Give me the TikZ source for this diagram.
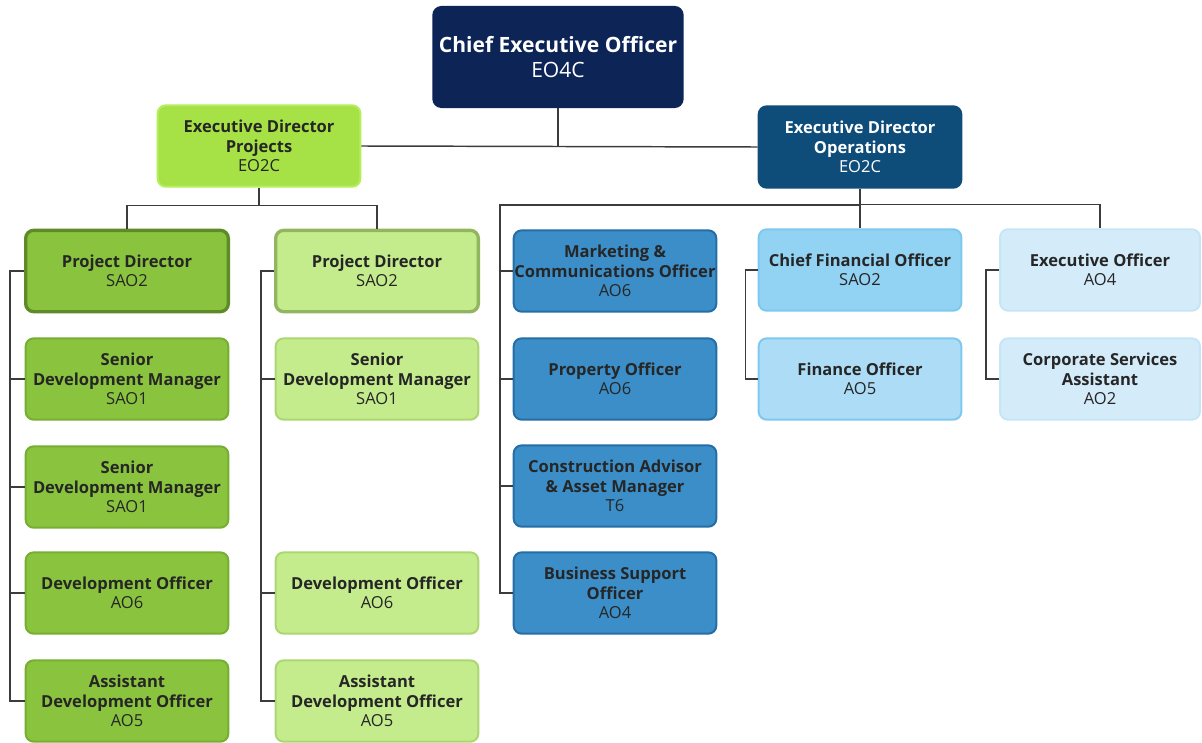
\documentclass[tikz,border=0pt]{standalone}
\usepackage{fontspec}
\setmainfont{Open Sans}
\usepackage{tikz}
\usetikzlibrary{positioning,calc}
\definecolor{navy}{RGB}{13,36,87}
\definecolor{opsblue}{RGB}{14,76,122}
\definecolor{lime}{RGB}{166,226,70}
\definecolor{limeedge}{RGB}{180,238,92}
\definecolor{dkgreen}{RGB}{138,196,62}
\definecolor{dkgreenedge}{RGB}{118,174,50}
\definecolor{ltgreen}{RGB}{196,236,140}
\definecolor{ltgreenedge}{RGB}{172,214,112}
\definecolor{midblue}{RGB}{60,142,200}
\definecolor{midblueedge}{RGB}{36,110,165}
\definecolor{skyblue}{RGB}{146,210,243}
\definecolor{skyblueedge}{RGB}{126,200,240}
\definecolor{paleblue}{RGB}{212,236,250}
\definecolor{palebluedge}{RGB}{198,229,247}
\definecolor{linegrey}{RGB}{60,60,60}

\newcommand{\post}[2]{#1\\\mdseries #2}

\begin{document}
\begin{tikzpicture}
              [x=0.75pt,y=-0.75pt,
                every node/.style={rectangle,rounded corners=6pt,line width=1.5pt,align=center,
                  font=\fontsize{12.4}{14.5}\selectfont\bfseries,inner sep=0pt},
                unit/.style={minimum width=152pt,minimum height=61pt},
                dkbox/.style={unit,fill=dkgreen,draw=dkgreenedge,text=black!85},
                ltbox/.style={unit,fill=ltgreen,draw=ltgreenedge,text=black!85},
                bluebox/.style={unit,fill=midblue,draw=midblueedge,text=black!85},
                skybox/.style={unit,fill=skyblue,draw=skyblueedge,text=black!85},
                palebox/.style={unit,minimum width=150pt,fill=paleblue,draw=palebluedge,text=black!85},
                link/.style={draw=linegrey,line width=1.1pt}]
              \useasboundingbox (0,0) rectangle (1202,742);
              % top levels
              \node[minimum width=187pt,minimum height=75pt,fill=navy,draw=navy,text=white,
                font=\fontsize{15.8}{18.7}\selectfont\bfseries] (ceo) at (558,57) {\post{Chief Executive Officer}{EO4C}};
              \node[unit,fill=lime,draw=limeedge,text=black!85] (edp) at (259,146) {\post{Executive Director\\Projects}{EO2C}};
              \node[unit,fill=opsblue,draw=opsblue,text=white] (edo) at (860,147) {\post{Executive Director\\Operations}{EO2C}};
              % projects, first team
              \node[dkbox,draw=dkgreenedge!80!black,line width=2.5pt] (pd1) at (127,271) {\post{Project Director}{SAO2}};
              \node[dkbox] (sdm1) at (127,379) {\post{Senior\\Development Manager}{SAO1}};
              \node[dkbox] (sdm2) at (127,487) {\post{Senior\\Development Manager}{SAO1}};
              \node[dkbox] (do1) at (127,593) {\post{Development Officer}{AO6}};
              \node[dkbox] (ado1) at (127,701) {\post{Assistant\\Development Officer}{AO5}};
              % projects, second team
              \node[ltbox,draw=ltgreenedge!85!black,line width=2.5pt] (pd2) at (377,271) {\post{Project Director}{SAO2}};
              \node[ltbox] (sdm3) at (377,379) {\post{Senior\\Development Manager}{SAO1}};
              \node[ltbox] (do2) at (377,593) {\post{Development Officer}{AO6}};
              \node[ltbox] (ado2) at (377,701) {\post{Assistant\\Development Officer}{AO5}};
              % operations
              \node[bluebox] (mco) at (615,271) {\post{Marketing \&\\Communications Officer}{AO6}};
              \node[bluebox] (po) at (615,379) {\post{Property Officer}{AO6}};
              \node[bluebox] (cam) at (615,486) {\post{Construction Advisor\\\& Asset Manager}{T6}};
              \node[bluebox] (bso) at (615,593) {\post{Business Support\\Officer}{AO4}};
              \node[skybox] (cfo) at (860,270) {\post{Chief Financial Officer}{SAO2}};
              \node[skybox,fill=skyblue!75!white] (fo) at (860,379) {\post{Finance Officer}{AO5}};
              \node[palebox] (eo) at (1100,270) {\post{Executive Officer}{AO4}};
              \node[palebox] (csa) at (1100,379) {\post{Corporate Services\\Assistant}{AO2}};
              \coordinate (opsbus) at (500,205);
              % connectors
              \draw[link] (edp.east) -- (edo.west);
              \draw[link] (ceo.south) -- (ceo.south |- edp.east);
              \foreach \to in {pd1,pd2}
              \draw[link] (edp.south) -- ++(0,18) -| (\to.north);
              \foreach \to in {cfo,eo}
              \draw[link] (edo.south) -- ++(0,16) -| (\to.north);
              \draw[link] (edo.south) |- (opsbus) |- (bso.west);
              \foreach \from in {mco,po,cam}
              \draw[link] (\from.west) -- (\from.west -| opsbus);
              \foreach \top/\bottom/\gap in {pd1/ado1/14,pd2/ado2/13,cfo/fo/12,eo/csa/13}
              \draw[link] (\top.west) -- ++(-\gap,0) |- (\bottom.west);
              \foreach \from/\gap in {sdm1/14,sdm2/14,do1/14,sdm3/13,do2/13}
              \draw[link] (\from.west) -- ++(-\gap,0);
            \end{tikzpicture}
\end{document}
